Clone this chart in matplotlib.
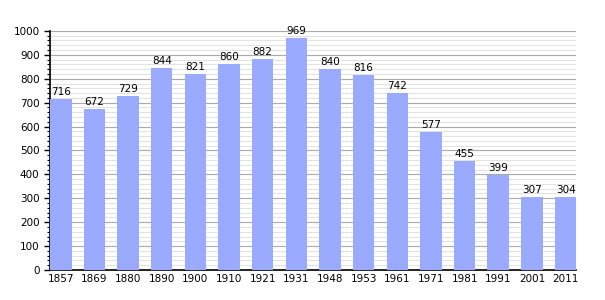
import matplotlib
matplotlib.use("Agg")
import matplotlib.pyplot as plt
import numpy as np

# Population data
years = ["1857", "1869", "1880", "1890", "1900", "1910", "1921", "1931",
         "1948", "1953", "1961", "1971", "1981", "1991", "2001", "2011"]
population = [716, 672, 729, 844, 821, 860, 882, 969,
              840, 816, 742, 577, 455, 399, 307, 304]

fig = plt.figure(figsize=(6.05, 3.0), dpi=100)
ax = fig.add_axes([0.0826, 0.1, 0.87, 0.797])

x = np.arange(len(years))
ax.bar(x, population, width=0.64, color="#99aaff", zorder=3)

for xi, v in zip(x, population):
    ax.text(xi, v + 8, str(v), ha="center", va="bottom", fontsize=7.5, zorder=4)

ax.set_xlim(-0.32, len(years) - 1 + 0.32)
ax.set_ylim(0, 1000)
ax.set_xticks(x)
ax.set_xticklabels(years, fontsize=7.5)
ax.set_yticks(np.arange(0, 1001, 100))
ax.set_yticks(np.arange(0, 1001, 20), minor=True)
ax.tick_params(axis="y", labelsize=7.5, length=4, width=1)
ax.tick_params(axis="y", which="minor", length=2, width=0.8)
ax.tick_params(axis="x", length=0, pad=3)

ax.grid(axis="y", which="major", color="#aaaaaa", linewidth=0.8, zorder=0)
ax.grid(axis="y", which="minor", color="#dddddd", linewidth=0.6, zorder=0)

for s in ["top", "right"]:
    ax.spines[s].set_visible(False)
ax.spines["left"].set_linewidth(1.2)
ax.spines["bottom"].set_linewidth(1.2)

plt.savefig("out.png", dpi=100)
